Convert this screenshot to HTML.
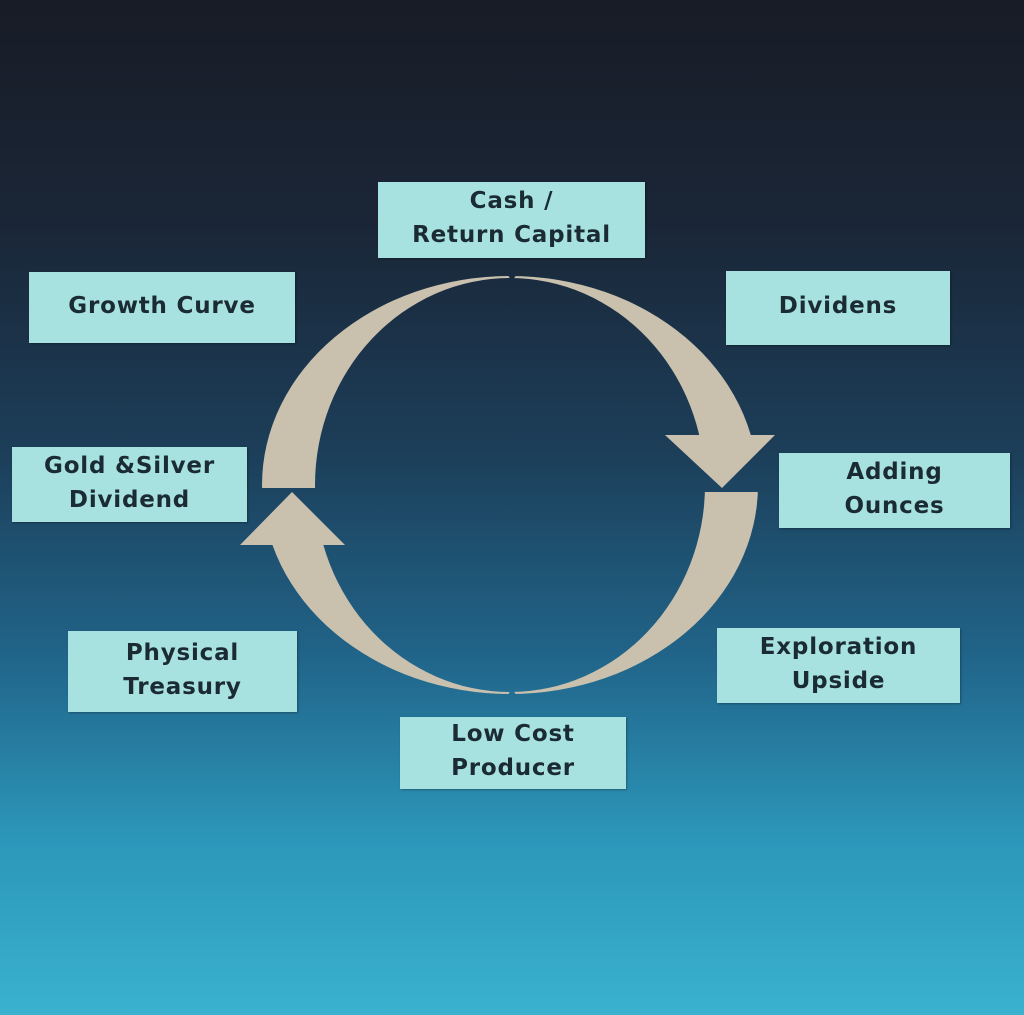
<!DOCTYPE html>
<html><head><style>
html,body{margin:0;padding:0}
body{width:1024px;height:1015px;position:relative;overflow:hidden;
background:linear-gradient(180deg,#181c26 0%,#1a2637 22%,#1c3f5a 45%,#21658a 65%,#2b95b8 82%,#3ab2cf 100%);
font-family:"DejaVu Sans","Liberation Sans",sans-serif;}
.b{position:absolute;background:#a8e2e0;color:#1b2b33;font-weight:bold;font-size:23px;line-height:34px;letter-spacing:0.8px;
display:flex;align-items:center;justify-content:center;text-align:center;box-shadow:1px 1px 2px rgba(0,0,0,.3);padding-bottom:4px;box-sizing:border-box}
svg{position:absolute;left:0;top:0}
</style></head><body>
<svg width="1024" height="1015">
<defs>
<mask id="m">
<rect width="1024" height="1015" fill="#fff"/>
<rect x="512" y="435" width="300" height="57" fill="#000"/>
<rect x="200" y="488" width="310" height="57" fill="#000"/>
<polygon points="505,270 519,270 512,282" fill="#000"/>
<polygon points="505,700 519,700 512,688" fill="#000"/>
</mask>
</defs>
<g fill="#c9c0ae">
<path mask="url(#m)" fill-rule="evenodd" d="M262,485 a248,209 0 1,0 496,0 a248,209 0 1,0 -496,0 Z M315,485 a195,207 0 1,0 390,0 a195,207 0 1,0 -390,0 Z"/>
<polygon points="665,435 775,435 722,488"/>
<polygon points="240,545 345,545 292,492"/>
</g>
</svg>
<div class="b" style="left:378px;top:182px;width:267px;height:76px">Cash /<br>Return Capital</div>
<div class="b" style="left:29px;top:272px;width:266px;height:71px">Growth Curve</div>
<div class="b" style="left:726px;top:271px;width:224px;height:74px">Dividens</div>
<div class="b" style="left:12px;top:447px;width:235px;height:75px">Gold &amp;Silver<br>Dividend</div>
<div class="b" style="left:779px;top:453px;width:231px;height:75px">Adding<br>Ounces</div>
<div class="b" style="left:68px;top:631px;width:229px;height:81px">Physical<br>Treasury</div>
<div class="b" style="left:717px;top:628px;width:243px;height:75px">Exploration<br>Upside</div>
<div class="b" style="left:400px;top:717px;width:226px;height:72px">Low Cost<br>Producer</div>
</body></html>
